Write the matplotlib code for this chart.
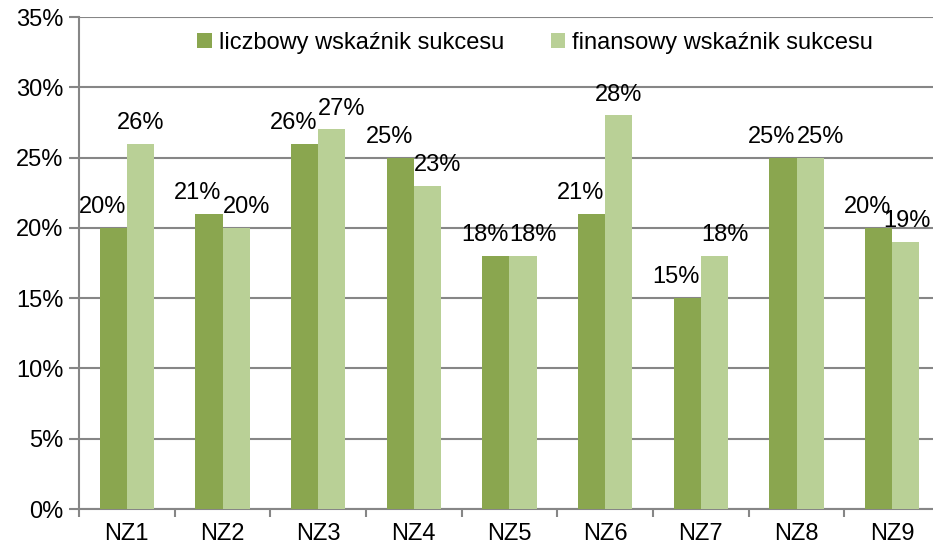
import numpy as np
import matplotlib
matplotlib.use("Agg")
import matplotlib.pyplot as plt

# values (percent)
categories = ["NZ1", "NZ2", "NZ3", "NZ4", "NZ5", "NZ6", "NZ7", "NZ8", "NZ9"]
liczbowy = [20, 21, 26, 25, 18, 21, 15, 25, 20]
finansowy = [26, 20, 27, 23, 18, 28, 18, 25, 19]
series_names = ["liczbowy wskaźnik sukcesu", "finansowy wskaźnik sukcesu"]
y_ticks = [0, 5, 10, 15, 20, 25, 30, 35]

dark = "#8aa64f"
light = "#b9d096"
grid_col = "#868686"

plt.rcParams["font.family"] = ["Liberation Sans", "DejaVu Sans"]
plt.rcParams["font.size"] = 17

fig = plt.figure(figsize=(9.33, 5.5), dpi=100)
ax = fig.add_axes([79 / 933, 41 / 550, 861 / 933, 492 / 550])

x = np.arange(len(categories))
w = 0.285
ax.bar(x - w / 2, liczbowy, w, color=dark, label=series_names[0], zorder=3)
ax.bar(x + w / 2, finansowy, w, color=light, label=series_names[1], zorder=3)

# data labels: dark ones end at the pair boundary, light ones start there when close
labels = []
for xi, a, b in zip(x, liczbowy, finansowy):
    labels.append(ax.annotate(f"{a}%", (xi - 0.01, a), xytext=(0, 7),
                              textcoords="offset points", ha="right", va="bottom"))
    if abs(a - b) <= 3:
        labels.append(ax.annotate(f"{b}%", (xi, b), xytext=(0, 7),
                                  textcoords="offset points", ha="left", va="bottom"))
    else:
        labels.append(ax.annotate(f"{b}%", (xi + w / 2, b), xytext=(0, 7),
                                  textcoords="offset points", ha="center", va="bottom"))

ax.set_xlim(-0.5, len(categories) - 0.5)
ax.set_ylim(0, 35)
ax.set_yticks(y_ticks)
ax.set_yticklabels([f"{t}%" for t in y_ticks])
ax.yaxis.grid(True, color=grid_col, linewidth=1.5, zorder=0)

ax.set_xticks(x)
ax.set_xticklabels(categories)
ax.set_xticks(np.arange(len(categories) + 1) - 0.5, minor=True)
ax.tick_params(axis="x", which="major", length=0, pad=10)
ax.tick_params(axis="x", which="minor", length=6, width=1.5, color=grid_col)
ax.tick_params(axis="y", length=7, width=1.5, color=grid_col, pad=4)

for side in ["top", "right"]:
    ax.spines[side].set_visible(False)
for side in ["left", "bottom"]:
    ax.spines[side].set_color(grid_col)
    ax.spines[side].set_linewidth(1.5)

leg = ax.legend(loc="center", bbox_to_anchor=(0.53, 0.947), ncol=2, frameon=False,
                handlelength=0.6, handleheight=0.6, handletextpad=0.3,
                columnspacing=2.0, borderaxespad=0)
leg.set_zorder(5)

# keep labels inside the picture, like the chart area does
fig.canvas.draw()
renderer = fig.canvas.get_renderer()
fig_w = fig.bbox.width
for t in labels:
    bb = t.get_window_extent(renderer)
    if bb.x1 > fig_w - 2:
        dx = (bb.x1 - (fig_w - 2)) * 72 / fig.dpi
        ox, oy = t.xyann
        t.xyann = (ox - dx, oy)

fig.savefig("out.png", dpi=100)
